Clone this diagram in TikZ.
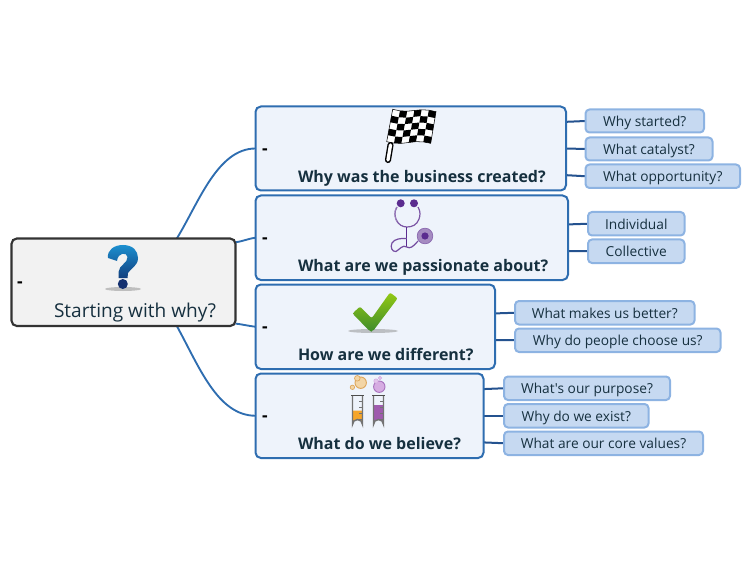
\documentclass[tikz,border=0pt]{standalone}
\usepackage{fontspec}
\setmainfont{Open Sans}[Ligatures=TeXOff]
\usetikzlibrary{backgrounds,shadings}
\definecolor{txt}{HTML}{16303F}
\definecolor{mainline}{HTML}{2E6DB0}
\definecolor{mainfill}{HTML}{EEF3FB}
\definecolor{subline}{HTML}{8DB3E2}
\definecolor{subfill}{HTML}{C6D9F1}
\definecolor{subconn}{HTML}{24528F}
\definecolor{rootline}{HTML}{333333}
\definecolor{rootfill}{HTML}{F2F2F2}
\definecolor{steth}{HTML}{5B2C8F}
\definecolor{qtop}{HTML}{1C8FCF}
\definecolor{qbot}{HTML}{12407F}
\definecolor{qdot}{HTML}{14306F}
\definecolor{chktop}{HTML}{93C914}
\definecolor{chkbot}{HTML}{3F8C2C}
\definecolor{orgliq}{HTML}{F5A52A}
\definecolor{purliq}{HTML}{9F5BAE}
\definecolor{orgbub}{HTML}{F3D5A6}
\definecolor{orgedge}{HTML}{DDA65C}
\definecolor{purbub}{HTML}{D6ACE2}
\definecolor{puredge}{HTML}{A873BE}
\tikzset{
  every node/.style={outer sep=0pt,inner sep=0pt},
  rootbox/.style={draw=rootline,fill=rootfill,line width=1.6pt,rounded corners=4pt},
  mainbox/.style={draw=mainline,fill=mainfill,line width=1.5pt,rounded corners=4pt},
  subbox/.style={draw=subline,fill=subfill,line width=1.5pt,rounded corners=3pt,text=txt,font=\fontsize{10.3}{12}\selectfont,text height=11pt,text depth=2.5pt},
  maintext/.style={anchor=base west,text=txt,font=\fontsize{12}{14}\selectfont\bfseries},
  roottext/.style={anchor=base west,text=txt,font=\fontsize{14.3}{16}\selectfont},
  dashmark/.style={anchor=center,text=black,font=\fontsize{13}{16}\selectfont\bfseries},
  rootconn/.style={draw=mainline,line width=1.4pt},
  subedge/.style={draw=subconn,line width=1.5pt},
  shadowmark/.style={fill=black!45,opacity=.5},
}
\newcommand{\bx}[7]{%
  \pgfmathsetmacro\bxc{(#4+#6)/2}\pgfmathsetmacro\byc{(#5+#7)/2}%
  \pgfmathsetmacro\bw{(#6-#4)*0.75}\pgfmathsetmacro\bh{(#7-#5)*0.75}%
  \node[#2,minimum width=\bw pt,minimum height=\bh pt] (#1) at (\bxc,\byc) {#3};}
\begin{document}
\begin{tikzpicture}[x=0.75pt,y=-0.75pt]
\useasboundingbox (0,0) rectangle (750,563);
% boxes
\bx{root}{rootbox}{}{11.5}{238.5}{235.5}{326}
\bx{ma}{mainbox}{}{255.5}{106.5}{566}{190.5}
\bx{mb}{mainbox}{}{255.5}{195.5}{568}{280}
\bx{mc}{mainbox}{}{255.5}{284.5}{495}{369}
\bx{md}{mainbox}{}{255.5}{373.5}{483.5}{458}
\bx{sa}{subbox}{Why started?}{585.5}{109.5}{704}{132.5}
\bx{sb}{subbox}{What catalyst?}{585.5}{137.5}{712.5}{160.5}
\bx{sc}{subbox}{What opportunity?}{585.5}{164.5}{740}{188}
\bx{sd}{subbox}{Individual}{588}{212}{684.5}{235.5}
\bx{se}{subbox}{Collective}{588}{239.5}{684.5}{263}
\bx{sf}{subbox}{What makes us better?}{515}{301}{694.5}{324.5}
\bx{sg}{subbox}{Why do people choose us?}{515}{328.5}{720.5}{352}
\bx{sh}{subbox}{What's our purpose?}{504}{376.5}{670}{400}
\bx{si}{subbox}{Why do we exist?}{504}{404}{648.5}{427.5}
\bx{sj}{subbox}{What are our core values?}{504}{431.5}{703}{455}
% connectors
\begin{scope}[on background layer]
\draw[rootconn] ([xshift=40pt]root.north) .. controls +(22,-36) and +(-38,0) .. (ma.west);
\draw[rootconn] ([yshift=30pt]root.east) .. controls +(8,-1) and +(-8,1) .. (mb.west);
\draw[rootconn] ([yshift=-31pt]root.east) .. controls +(8,1) and +(-8,-1) .. (mc.west);
\draw[rootconn] ([xshift=40pt]root.south) .. controls +(22,40) and +(-38,0) .. (md.west);
\draw[subedge] ([yshift=20pt]ma.east) -- (sa.west);
\draw[subedge] (ma.east) -- (sb.west);
\draw[subedge] ([yshift=-20pt]ma.east) -- (sc.west);
\draw[subedge] ([yshift=10pt]mb.east) -- (sd.west);
\draw[subedge] ([yshift=-10pt]mb.east) -- (se.west);
\draw[subedge] ([yshift=10pt]mc.east) -- (sf.west);
\draw[subedge] ([yshift=-10pt]mc.east) -- (sg.west);
\draw[subedge] ([yshift=20pt]md.east) -- (sh.west);
\draw[subedge] (md.east) -- (si.west);
\draw[subedge] ([yshift=-20pt]md.east) -- (sj.west);
\end{scope}
% texts
\node[roottext] (troot) at (54,317) {Starting with why?};
\node[maintext] (ta) at (298,182.7) {Why was the business created?};
\node[maintext] (tb) at (298,271.7) {What are we passionate about?};
\node[maintext] (tc) at (298,360.7) {How are we different?};
\node[maintext] (td) at (298,449.7) {What do we believe?};
\node[dashmark] (dr) at (20,285) {-};
\node[dashmark] (da) at (265,152) {-};
\node[dashmark] (db) at (265,241) {-};
\node[dashmark] (dc) at (265,330) {-};
\node[dashmark] (dd) at (265,419) {-};
% question mark
\fill[shadowmark] (123,289) ellipse (18 and 2);
\shade[top color=qtop,bottom color=qbot]
  (108,258) .. controls (107,250) and (114,245) .. (123,245)
  .. controls (133,245) and (138,251) .. (138,258)
  .. controls (138,266) and (131,268) .. (128,273)
  -- (127.5,278) -- (118.5,278) -- (118.5,272)
  .. controls (119,265) and (128,263) .. (127.5,257)
  .. controls (127,252) and (118,252) .. (117,261) -- cycle;
\fill[qdot] (122.8,284) circle (5);
% flag
\foreach \i in {0,...,6}{\foreach \j in {0,...,5}{
  \pgfmathsetmacro\fu{\i/6}\pgfmathsetmacro\fv{\j/5}
  \pgfmathsetmacro\fx{392.7+43.3*\fu-6*\fv+0.7*\fu*\fv}
  \pgfmathsetmacro\fy{109.3+2.4*\fu+32.4*\fv-0.8*\fu*\fv+1.3*sin(\fu*360)}
  \coordinate (f\i\j) at (\fx,\fy);
}}
\filldraw[fill=white,draw=black,line width=.4pt] (f00)--(f10)--(f20)--(f30)--(f40)--(f50)--(f60)--(f61)--(f62)--(f63)--(f64)--(f65)--(f55)--(f45)--(f35)--(f25)--(f15)--(f05)--(f04)--(f03)--(f02)--(f01)--cycle;
\foreach \i/\ii in {0/1,1/2,2/3,3/4,4/5,5/6}{\foreach \j/\jj in {0/1,1/2,2/3,3/4,4/5}{
  \pgfmathparse{int(mod(\i+\j,2))}
  \ifnum\pgfmathresult=1 \fill[black] (f\i\j)--(f\ii\j)--(f\ii\jj)--(f\i\jj)--cycle;\fi
}}
\draw[black,line width=4.6pt,line cap=round] (390.5,145) -- (388,160);
\draw[white,line width=2.5pt,line cap=round] (390.5,145) -- (388,160);
% stethoscope
\draw[steth!80!white,line width=.9pt] (397,207) .. controls (394,212) and (395,216) .. (396,219) .. controls (398,225) and (403,227) .. (407,227) .. controls (412,227) and (417,225) .. (419,219) .. controls (420,216) and (421,212) .. (418,207);
\draw[steth!60!white,line width=.7pt] (396.5,207) .. controls (394,212) and (394.5,218) .. (397,222);
\draw[steth,line width=.9pt] (406.8,227) -- (406.8,247);
\draw[steth!85!white,line width=.9pt] (418,241) .. controls (413,247) and (410,249) .. (406.8,247) .. controls (403,244) and (399,250) .. (396,251.5) .. controls (392,252) and (390,247) .. (392,243) .. controls (394,239) and (401,238) .. (406.8,238.5);
\fill[steth] (400.7,203.3) circle (4);
\fill[steth] (414,203.3) circle (4);
\fill[steth!55!white] (425,236) circle (8);
\draw[steth!70!white,line width=.5pt] (425,236) circle (7.8);
\fill[steth] (425,236) circle (3.6);
% check mark
\fill[shadowmark] (373,331) ellipse (25 and 2);
\shade[top color=chktop,bottom color=chkbot,rounded corners=1.5pt]
  (352.5,313.5) -- (360,306.5) -- (371.7,318.3) -- (390,292.5) -- (397.7,298.3) -- (372.7,331.5) -- (370,331.5) -- cycle;
% test tubes
\fill[orgliq] (352.5,410.5) -- (362.5,410.5) -- (362.5,424.5) arc (0:-180:5) -- cycle;
\fill[purliq] (373.5,405) -- (383.5,405) -- (383.5,424.5) arc (0:-180:5) -- cycle;
\draw[black!55,line width=1.1pt] (352.5,396) -- (352.5,424.5) arc (-180:0:5) -- (362.5,396);
\draw[black!55,line width=1.1pt] (373.5,396) -- (373.5,424.5) arc (-180:0:5) -- (383.5,396);
\draw[black!70,line width=1.1pt] (351,395.5) -- (364,395.5);
\draw[black!70,line width=1.1pt] (372,395.5) -- (385,395.5);
\foreach \yy in {401,407,413,419}{
  \draw[black!55,line width=.4pt] (359,\yy) -- (362,\yy);
  \draw[black!55,line width=.4pt] (380,\yy) -- (383,\yy);
}
\filldraw[fill=orgbub,draw=orgedge,line width=.7pt] (360.7,382.7) circle (5.7);
\filldraw[fill=orgbub,draw=orgedge,line width=.5pt] (352.4,387.3) circle (2.2);
\filldraw[fill=orgbub,draw=orgedge,line width=.5pt] (357.3,378.3) circle (2.8);
\filldraw[fill=purbub,draw=puredge,line width=.7pt] (379.3,386.7) circle (5.7);
\filldraw[fill=purbub!70!white,draw=purbub,line width=.4pt] (376,381) circle (2.2);
\filldraw[fill=purbub!70!white,draw=purbub,line width=.4pt] (380,378) circle (1.8);
\end{tikzpicture}
\end{document}
